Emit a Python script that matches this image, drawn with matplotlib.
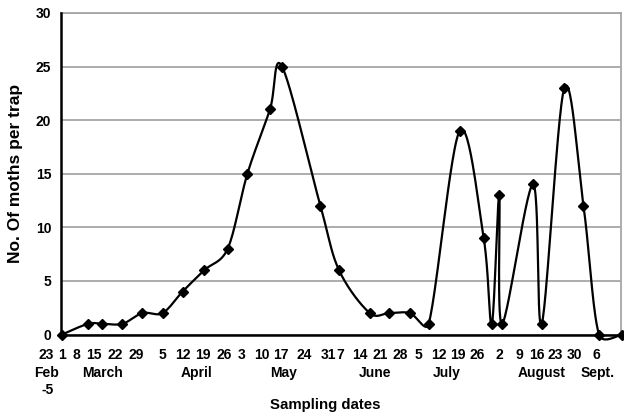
import numpy as np
import matplotlib
matplotlib.use("Agg")
import matplotlib.pyplot as plt
from matplotlib import transforms

plt.rcParams['font.family'] = ['Liberation Sans', 'DejaVu Sans']
plt.rcParams['font.weight'] = 'bold'

# sampling position (days after 1 March) and moths per trap
days = [0, 9.2, 14.3, 21.4, 28.5, 35.6, 42.7, 50.4, 58.7, 65.7, 73.7, 78.0, 91.6, 98.2,
        109.1, 116, 123.3, 130, 141, 149.5, 152.4, 155, 156, 167, 170.1, 178.1, 184.9,
        190.4, 198.7]
moths = [0, 1, 1, 1, 2, 2, 4, 6, 8, 15, 21, 25, 12, 6,
         2, 2, 2, 1, 19, 9, 1, 13, 1, 14, 1, 23, 12,
         0, 0]

day_labels = ['23', '1', '8', '15', '22', '29', '5', '12', '19', '26', '3', '10', '17', '24',
              '31', '7', '14', '21', '28', '5', '12', '19', '26', '2', '9', '16', '23', '30', '6']
day_label_pos = [-5.5, 0.1, 5.1, 11.2, 18.7, 26.4, 35.6, 42.7, 49.9, 57.3, 63.6, 70.9, 77.5, 85.7,
                 94.3, 98.7, 105.6, 112.7, 119.8, 126.2, 133.7, 140.4, 147.3, 155.2, 162.3,
                 168.4, 174.7, 181.8, 189.3]
months = ['Feb', 'March', 'April', 'May', 'June', 'July', 'August', 'Sept.']
month_pos = [-5.5, 14.4, 47.7, 78.4, 110.9, 136.3, 170.0, 189.9]


def smoothCurve(x, y, sx=2.82, sy=10.73, n=30):
    # smoothed line: bezier segments, arms = 1/6 of neighbour chord, at most half the segment
    p = np.column_stack([np.array(x) * sx, np.array(y) * sy])
    p = np.vstack([p[0], p, p[-1]])
    out = []
    for i in range(1, len(p) - 2):
        p0, p1, p2, p3 = p[i - 1], p[i], p[i + 1], p[i + 2]
        seglen = np.hypot(*(p2 - p1))
        a1 = (p2 - p0) / 6
        a2 = (p3 - p1) / 6
        for a in (a1, a2):
            L = np.hypot(*a)
            if L > seglen / 2 and L > 0:
                a *= (seglen / 2) / L
        c1 = p1 + a1
        c2 = p2 - a2
        t = np.linspace(0, 1, n)[:, None]
        seg = (1 - t) ** 3 * p1 + 3 * (1 - t) ** 2 * t * c1 + 3 * (1 - t) * t ** 2 * c2 + t ** 3 * p2
        out.append(seg)
    out = np.vstack(out)
    return out[:, 0] / sx, out[:, 1] / sy


fig = plt.figure(figsize=(6.24, 4.17), dpi=100)
ax = fig.add_axes([61 / 624, 1 - 334.5 / 417, 560 / 624, 321.5 / 417])

cx, cy = smoothCurve(days, moths)
ax.plot(cx, cy, color='black', lw=1.6, clip_on=False, zorder=3)
ax.plot(days, moths, linestyle='none', marker='D', color='black', markersize=5, clip_on=False, zorder=4)

ax.set_xlim(-0.4, 198.2)
ax.set_ylim(0, 30)
ax.set_yticks(range(0, 31, 5))
ax.set_yticklabels([str(v) for v in range(0, 31, 5)], fontsize=10, fontweight='bold')
ax.tick_params(axis='y', length=0, pad=7)
ax.set_xticks([])
ax.grid(axis='y', color='#a6a6a6', lw=1.3)
ax.set_axisbelow(True)
for s in ['top', 'right']:
    ax.spines[s].set_color('#a6a6a6')
    ax.spines[s].set_linewidth(1.3)
for s in ['left', 'bottom']:
    ax.spines[s].set_color('black')
    ax.spines[s].set_linewidth(1.8)
    ax.spines[s].set_zorder(5)

trans = transforms.blended_transform_factory(ax.transData, ax.transAxes)
for lab, pos in zip(day_labels, day_label_pos):
    ax.text(pos, -0.064, lab, transform=trans, ha='center', va='center', fontsize=10, fontweight='bold')
for lab, pos in zip(months, month_pos):
    ax.text(pos, -0.12, lab, transform=trans, ha='center', va='center', fontsize=10, fontweight='bold')
ax.text(-5.1, -0.1726, '-5', transform=trans, ha='center', va='center', fontsize=10, fontweight='bold')

fig.text(325 / 624, 1 - 405 / 417, 'Sampling dates', ha='center', va='center', fontsize=10.8, fontweight='bold')
fig.text(15.7 / 624, 1 - 173 / 417, 'No. Of moths per trap', rotation=90, ha='center', va='center',
         fontsize=12.5, fontweight='bold')

fig.savefig('out.png', dpi=100)
